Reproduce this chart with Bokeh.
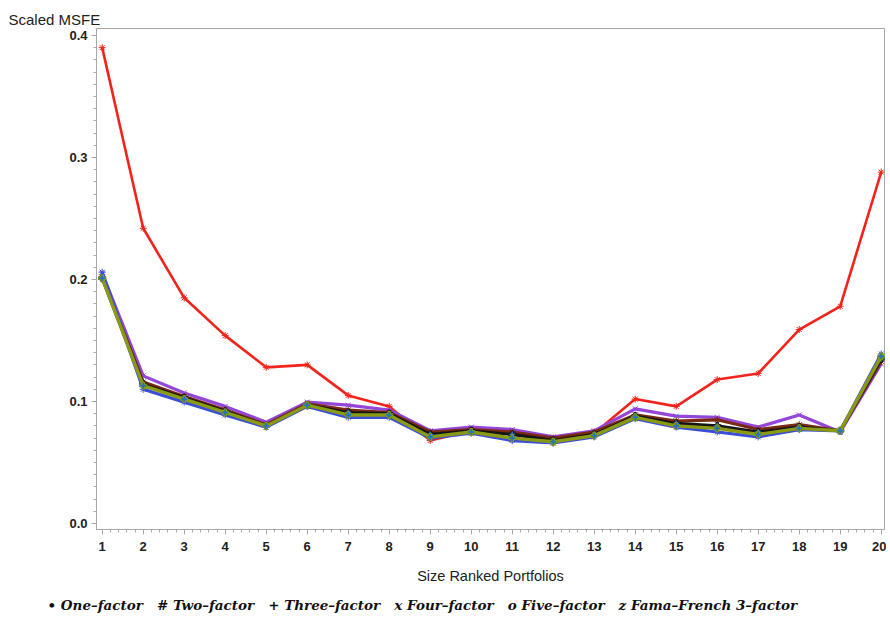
from bokeh.plotting import figure
from bokeh.models import Range1d, FixedTicker, Title, CustomJSTickFormatter
from bokeh.embed import file_html
from bokeh.resources import INLINE

portfolios = list(range(1, 21))
x_tick_labels = [str(i) for i in portfolios]
y_ticks = [0.0, 0.1, 0.2, 0.3, 0.4]

one_factor = [0.201, 0.114, 0.103, 0.092, 0.080, 0.097, 0.091, 0.090, 0.073, 0.076,
              0.073, 0.068, 0.073, 0.088, 0.082, 0.080, 0.075, 0.079, 0.076, 0.135]
two_factor = [0.206, 0.110, 0.0995, 0.089, 0.079, 0.096, 0.087, 0.087, 0.070, 0.074,
              0.068, 0.066, 0.071, 0.086, 0.079, 0.075, 0.071, 0.077, 0.076, 0.139]
three_factor = [0.202, 0.116, 0.104, 0.093, 0.081, 0.098, 0.093, 0.091, 0.075, 0.077,
                0.075, 0.070, 0.075, 0.089, 0.084, 0.085, 0.077, 0.081, 0.076, 0.133]
four_factor = [0.205, 0.121, 0.107, 0.096, 0.083, 0.0995, 0.097, 0.093, 0.076, 0.079,
               0.077, 0.071, 0.076, 0.094, 0.088, 0.087, 0.079, 0.089, 0.075, 0.131]
five_factor = [0.201, 0.113, 0.102, 0.091, 0.080, 0.097, 0.089, 0.089, 0.071, 0.075,
               0.070, 0.067, 0.072, 0.087, 0.080, 0.078, 0.073, 0.078, 0.076, 0.137]
fama_french = [0.390, 0.242, 0.185, 0.154, 0.128, 0.130, 0.105, 0.096, 0.068, 0.076,
               0.069, 0.066, 0.074, 0.102, 0.096, 0.118, 0.123, 0.159, 0.178, 0.288]

legend_items = ["\u2022 One\u2013factor", "# Two\u2013factor", "+ Three\u2013factor",
                "x Four\u2013factor", "o Five\u2013factor", "z Fama\u2013French 3\u2013factor"]
SEP = "\u00a0\u00a0\u00a0"
legend_text = SEP.join(s.replace(" ", "\u00a0") for s in legend_items)

GRAY = "#A8A8A8"

p = figure(width=886, height=623, output_backend="svg", toolbar_location=None,
           x_range=Range1d(0.861, 20.08), y_range=Range1d(-0.0049, 0.4057),
           min_border_left=96, min_border_right=2, min_border_top=28, min_border_bottom=94)
p.xgrid.visible = False
p.ygrid.visible = False
p.outline_line_color = GRAY
p.background_fill_color = "white"

# series: (values, color, width, marker)
series = [
    (fama_french, "#F2231A", 2.6, "asterisk"),
    (four_factor, "#9446D8", 3.2, "x"),
    (three_factor, "#7A2A10", 3.2, "asterisk"),
    (one_factor, "#151515", 3.2, "plus"),
    (two_factor, "#3A4FD6", 3.2, "asterisk"),
    (five_factor, "#8A9A12", 3.4, "plus"),
]
for vals, col, w, mk in series:
    p.line(portfolios, vals, line_color=col, line_width=w)
    p.scatter(portfolios, vals, marker=mk, size=7, line_color=col, line_width=1.0)

# axes
p.xaxis.ticker = FixedTicker(ticks=portfolios,
                             minor_ticks=[1 + i * 0.2 for i in range(96)])
p.xaxis.major_label_overrides = {i: s for i, s in zip(portfolios, x_tick_labels)}
p.yaxis.ticker = FixedTicker(ticks=y_ticks, minor_ticks=[i * 0.01 for i in range(41)])
p.yaxis.formatter = CustomJSTickFormatter(code="return tick.toFixed(1);")

for ax in (p.xaxis, p.yaxis):
    ax.axis_line_color = GRAY
    ax.major_tick_line_color = GRAY
    ax.minor_tick_line_color = GRAY
    ax.major_tick_in = 0
    ax.minor_tick_in = 0
    ax.major_tick_out = 5
    ax.minor_tick_out = 3
    ax.major_label_text_font = "Liberation Sans"
    ax.major_label_text_font_size = "13px"
    ax.major_label_text_font_style = "bold"
    ax.major_label_text_color = "#222222"

p.xaxis.major_label_standoff = 7
p.yaxis.major_label_standoff = 4
p.xaxis.axis_label = "Size Ranked Portfolios"
p.xaxis.axis_label_text_font = "Liberation Sans"
p.xaxis.axis_label_text_font_size = "14.5px"
p.xaxis.axis_label_text_font_style = "normal"
p.xaxis.axis_label_text_color = "#222222"
p.xaxis.axis_label_standoff = 14

p.add_layout(Title(text="Scaled MSFE", align="left", offset=-88, standoff=2,
                   text_font="Liberation Sans", text_font_size="15px",
                   text_font_style="normal", text_color="#222222"), "above")
p.add_layout(Title(text=legend_text, align="left", offset=-49, standoff=17,
                   text_font="DejaVu Serif", text_font_size="13.5px",
                   text_font_style="bold italic", text_color="#111111"), "below")

open("out.html", "w").write(file_html(p, INLINE))
